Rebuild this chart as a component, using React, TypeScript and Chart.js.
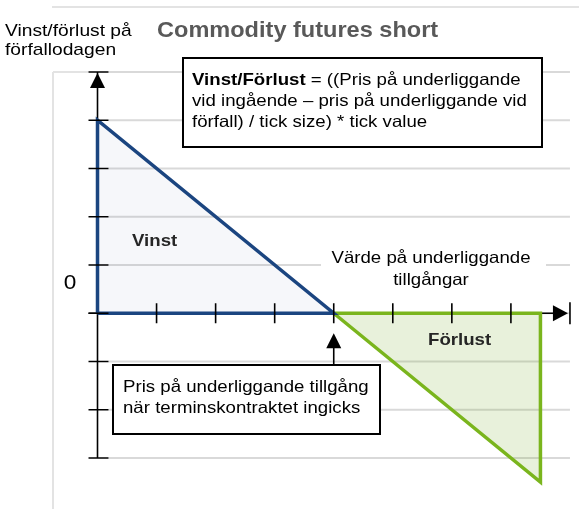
import React, { useEffect, useRef } from "react";
import { Chart, registerables } from "chart.js";

Chart.register(...registerables);

// ---- data ----
const xTicks = [0, 1, 2, 3, 4, 5, 6, 7];
const yTicks = [5, 4, 3, 2, 1, 0, -1, -2, -3];
const vinstX = [0, 0, 4, 0];
const vinstY = [0, 4, 0, 0];
const forlustX = [4, 7.5, 7.5, 4];
const forlustY = [0, 0, -3.5, 0];
const strikePrice = 4;
const xAxisEnd = 8;
const yAxisTop = 5;
const yAxisBottom = -3;

const title = "Commodity futures short";
const yAxisLabel = ["Vinst/förlust på", "förfallodagen"];
const xAxisLabel = ["Värde på underliggande", "tillgångar"];
const formulaBold = "Vinst/Förlust";
const formulaLines = [" = ((Pris på underliggande", "vid ingående – pris på underliggande vid", "förfall) / tick size) * tick value"];
const strikeLabel = ["Pris på underliggande tillgång", "när terminskontraktet ingicks"];
const profitLabel = "Vinst";
const lossLabel = "Förlust";
const zeroLabel = "0";

const FONT = '"Liberation Sans", Arial, sans-serif';
const SX = 1.13;

function text(ctx: CanvasRenderingContext2D, s: string, x: number, y: number, font: string, color: string, align: CanvasTextAlign = "left", sx: number = SX) {
  ctx.save();
  ctx.font = font;
  ctx.fillStyle = color;
  ctx.textBaseline = "alphabetic";
  ctx.textAlign = align;
  ctx.translate(x, y);
  ctx.scale(sx, 1);
  ctx.fillText(s, 0, 0);
  ctx.restore();
}
function textWidth(ctx: CanvasRenderingContext2D, s: string, font: string) {
  ctx.save();
  ctx.font = font;
  const w = ctx.measureText(s).width * SX;
  ctx.restore();
  return w;
}

const payoffPlugin = {
  id: "payoff",
  beforeDatasetsDraw(chart: any) {
    const ctx: CanvasRenderingContext2D = chart.ctx;
    const xs = chart.scales.x;
    const ys = chart.scales.y;
    const x0 = xs.getPixelForValue(0);
    const y0 = ys.getPixelForValue(0);
    const xEnd = xs.getPixelForValue(xAxisEnd);
    ctx.save();
    // frame lines
    ctx.strokeStyle = "#e3e3e3";
    ctx.lineWidth = 2;
    ctx.beginPath();
    ctx.moveTo(52, 7);
    ctx.lineTo(579, 7);
    ctx.moveTo(53, ys.getPixelForValue(yAxisTop));
    ctx.lineTo(53, 509);
    ctx.moveTo(53, ys.getPixelForValue(yAxisTop));
    ctx.lineTo(x0 - 9, ys.getPixelForValue(yAxisTop));
    ctx.stroke();
    // gridlines
    ctx.strokeStyle = "#d9d9d9";
    ctx.lineWidth = 2;
    ctx.beginPath();
    for (const t of yTicks) {
      const y = ys.getPixelForValue(t);
      ctx.moveTo(x0 + 11, y);
      ctx.lineTo(xEnd, y);
    }
    ctx.stroke();
    // axis lines
    ctx.strokeStyle = "#000";
    ctx.lineWidth = 1.6;
    ctx.beginPath();
    ctx.moveTo(x0, ys.getPixelForValue(yAxisTop));
    ctx.lineTo(x0, ys.getPixelForValue(yAxisBottom));
    ctx.moveTo(x0 - 9, y0);
    ctx.lineTo(xEnd - 10, y0);
    ctx.stroke();
    ctx.restore();
  },
  afterDatasetsDraw(chart: any) {
    const ctx: CanvasRenderingContext2D = chart.ctx;
    const xs = chart.scales.x;
    const ys = chart.scales.y;
    const x0 = xs.getPixelForValue(0);
    const y0 = ys.getPixelForValue(0);
    const xEnd = xs.getPixelForValue(xAxisEnd);
    const yTop = ys.getPixelForValue(yAxisTop);
    ctx.save();
    ctx.strokeStyle = "#000";
    ctx.fillStyle = "#000";
    ctx.lineWidth = 1.6;
    // ticks
    ctx.beginPath();
    for (const t of yTicks) {
      const y = ys.getPixelForValue(t);
      ctx.moveTo(x0 - 9, y);
      ctx.lineTo(x0 + 11, y);
    }
    for (const t of xTicks) {
      if (t === 0) continue;
      const x = xs.getPixelForValue(t);
      ctx.moveTo(x, y0 - 10);
      ctx.lineTo(x, y0 + 10);
    }
    ctx.moveTo(xEnd, y0 - 11);
    ctx.lineTo(xEnd, y0 + 11);
    ctx.stroke();
    // x arrow head
    ctx.beginPath();
    ctx.moveTo(xEnd - 2, y0);
    ctx.lineTo(xEnd - 17, y0 - 8);
    ctx.lineTo(xEnd - 17, y0 + 8);
    ctx.closePath();
    ctx.fill();
    // y arrow head
    ctx.beginPath();
    ctx.moveTo(x0, yTop + 1);
    ctx.lineTo(x0 - 7.5, yTop + 16);
    ctx.lineTo(x0 + 7.5, yTop + 16);
    ctx.closePath();
    ctx.fill();

    // title + axis label
    text(ctx, title, 157, 37, `bold 22px ${FONT}`, "#595959", "left", 1.07);
    text(ctx, yAxisLabel[0], 5, 36, `17px ${FONT}`, "#000");
    text(ctx, yAxisLabel[1], 5, 55, `17px ${FONT}`, "#000");

    // formula box
    ctx.fillStyle = "#fff";
    ctx.fillRect(183, 58, 359, 89);
    ctx.lineWidth = 2;
    ctx.strokeStyle = "#000";
    ctx.strokeRect(183, 58, 359, 89);
    const fb = `bold 16.5px ${FONT}`;
    const fr = `16.5px ${FONT}`;
    text(ctx, formulaBold, 192, 85, fb, "#000");
    text(ctx, formulaLines[0], 192 + textWidth(ctx, formulaBold, fb), 85, fr, "#000");
    text(ctx, formulaLines[1], 192, 106, fr, "#000");
    text(ctx, formulaLines[2], 192, 127, fr, "#000");

    // x axis label with white background
    ctx.fillStyle = "#fff";
    ctx.fillRect(321, 246, 225, 46);
    text(ctx, xAxisLabel[0], 431, 263, fr, "#000", "center");
    text(ctx, xAxisLabel[1], 431, 285, fr, "#000", "center");

    // zero label
    text(ctx, zeroLabel, 70, 289, `20px ${FONT}`, "#000", "center");

    // region labels
    text(ctx, profitLabel, 132, 246, `bold 16.5px ${FONT}`, "#262626");
    text(ctx, lossLabel, 428, 345, `bold 16.5px ${FONT}`, "#262626");

    // strike box + arrow
    const xs0 = xs.getPixelForValue(strikePrice);
    ctx.fillStyle = "#fff";
    ctx.fillRect(113, 365, 267, 69);
    ctx.lineWidth = 2;
    ctx.strokeStyle = "#000";
    ctx.strokeRect(113, 365, 267, 69);
    text(ctx, strikeLabel[0], 123, 392, fr, "#000");
    text(ctx, strikeLabel[1], 123, 413, fr, "#000");
    ctx.lineWidth = 1.6;
    ctx.beginPath();
    ctx.moveTo(xs0, 365);
    ctx.lineTo(xs0, y0 + 30);
    ctx.stroke();
    ctx.fillStyle = "#000";
    ctx.beginPath();
    ctx.moveTo(xs0, y0 + 20);
    ctx.lineTo(xs0 - 7.5, y0 + 35);
    ctx.lineTo(xs0 + 7.5, y0 + 35);
    ctx.closePath();
    ctx.fill();
    ctx.restore();
  },
};

export default function App() {
  const ref = useRef<HTMLCanvasElement>(null);
  useEffect(() => {
    const chart = new Chart(ref.current!, {
      type: "line",
      data: {
        datasets: [
          {
            data: vinstX.map((x, i) => ({ x, y: vinstY[i] })),
            borderColor: "#1b4580",
            backgroundColor: "rgba(40,70,140,0.045)",
            borderWidth: 3.5,
            fill: "shape",
            pointRadius: 0,
            tension: 0,
            borderJoinStyle: "miter",
          },
          {
            data: forlustX.map((x, i) => ({ x, y: forlustY[i] })),
            borderColor: "#7ab51d",
            backgroundColor: "rgba(120,170,40,0.17)",
            borderWidth: 3.5,
            fill: "shape",
            pointRadius: 0,
            tension: 0,
            borderJoinStyle: "miter",
          },
        ],
      },
      options: {
        responsive: false,
        animation: false,
        events: [],
        layout: { padding: 0 },
        scales: {
          x: { type: "linear", min: -1.651, max: 8.153, display: false },
          y: { type: "linear", min: -4.057, max: 6.492, display: false },
        },
        plugins: { legend: { display: false }, tooltip: { enabled: false }, title: { display: false } },
      },
      plugins: [payoffPlugin],
    });
    return () => chart.destroy();
  }, []);
  return (
    <div style={{ position: "absolute", left: 0, top: 0, width: 579, height: 509, background: "#fff" }}>
      <canvas ref={ref} width={579} height={509} />
    </div>
  );
}
